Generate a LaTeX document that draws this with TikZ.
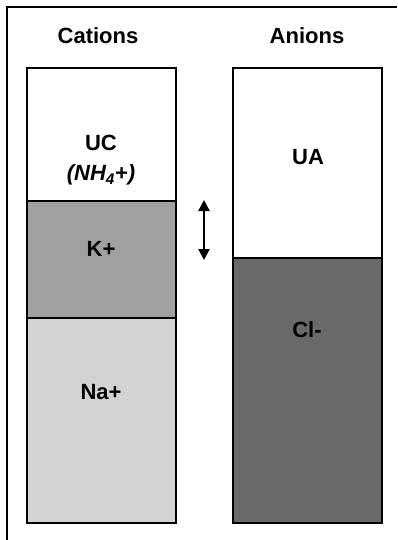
\documentclass[tikz,border=0pt]{standalone}
\usepackage{fontspec}
\setmainfont{Liberation Sans}
\usetikzlibrary{arrows.meta}
\definecolor{kgray}{HTML}{A0A0A0}
\definecolor{nagray}{HTML}{D3D3D3}
\definecolor{clgray}{HTML}{696969}
\begin{document}
\begin{tikzpicture}[x=1pt,y=-1pt,
  lbl/.style={font=\fontsize{22}{25}\selectfont\bfseries, inner sep=0pt, align=center},
  seg/.style={draw=black, line width=1.6pt},
  outline/.style={draw=black, line width=2.6pt}]
  \useasboundingbox (0,0) rectangle (397,540);
  % frame
  \draw[line width=1.4pt] (7,540) -- (7,7) -- (397,7);
  % headings
  \node[lbl] (hcat) at (98,36) {Cations};
  \node[lbl] (hani) at (307,36) {Anions};
  % cation column
  \path[fill=white] (27,68) rectangle (176,201);
  \path[fill=kgray] (27,201) rectangle (176,318);
  \path[fill=nagray] (27,318) rectangle (176,523);
  \draw[seg] (27,201) -- (176,201);
  \draw[seg] (27,318) -- (176,318);
  \draw[outline] (27,68) rectangle (176,523);
  % anion column
  \path[fill=white] (233,68) rectangle (382,258);
  \path[fill=clgray] (233,258) rectangle (382,523);
  \draw[seg] (233,258) -- (382,258);
  \draw[outline] (233,68) rectangle (382,523);
  % labels
  \node[lbl] (uc) at (101,143) {UC};
  \node[lbl] (nh) at (101,175) {\textit{(NH\textsubscript{4}+)}};
  \node[lbl] (k) at (101,249) {K+};
  \node[lbl] (na) at (101,392) {Na+};
  \node[lbl] (ua) at (308,157) {UA};
  \node[lbl] (cl) at (307,330) {Cl-};
  % exchange arrow
  \coordinate (atop) at (204,200);
  \coordinate (abot) at (204,260);
  \draw[line width=2.4pt, {Triangle[length=11pt,width=11pt]}-{Triangle[length=11pt,width=11pt]}] (atop) -- (abot);
\end{tikzpicture}
\end{document}
